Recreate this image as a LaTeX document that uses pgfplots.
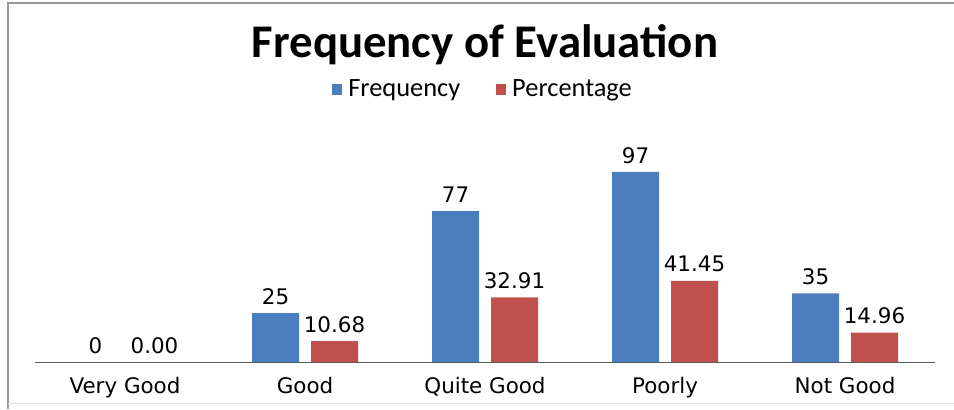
\documentclass[border=0pt]{standalone}
\usepackage{pgfplots}
\pgfplotsset{compat=1.18}
\usepackage{fontspec}
\setmainfont{Carlito}
\newfontfamily\verd{DejaVu Sans}
\definecolor{xlblue}{HTML}{4A7EBF}
\definecolor{xlred}{HTML}{C0504D}
\begin{document}
\begin{tikzpicture}[x=1bp,y=1bp]
\useasboundingbox (0,0) rectangle (954,409);
\draw[gray!80, line width=1.2bp] (8,0) -- (8,406) -- (954,406);
\draw[gray!25, line width=0.8bp] (8,6) -- (954,6);
\node[font=\bfseries\fontsize{47}{50}\selectfont, anchor=center] at (485,364) {Frequency of Evaluation};
\begin{axis}[
  at={(35bp,47bp)}, anchor=south west,
  scale only axis, width=900bp, height=235.2bp,
  xmin=-0.5, xmax=4.5, ymin=0, ymax=120,
  hide y axis,
  axis x line*=bottom,
  x axis line style={draw=gray!70!black, line width=0.8bp},
  xtick={0,1,2,3,4},
  xticklabels={Very Good, Good, Quite Good, Poorly, Not Good},
  major tick length=0pt,
  xticklabel style={font=\verd\fontsize{21.5}{24}\selectfont, yshift=-12bp},
  ybar, bar width=47bp,
  nodes near coords,
  every node near coord/.append style={font=\verd\fontsize{21.5}{24}\selectfont, text=black, yshift=5bp},
  legend style={at={(0.5,1.16)}, anchor=center, draw=none, fill=none,
    legend columns=2, font=\fontsize{26.5}{28}\selectfont,
    /tikz/every even column/.append style={column sep=30bp},
    nodes={inner xsep=6bp}},
  legend image code/.code={\fill[#1] (-5bp,-5.5bp) rectangle (5bp,5.5bp);},
  clip=false,
]
\addplot[bar shift=-29.5bp, draw=none, fill=xlblue,
  point meta=explicit symbolic] coordinates {(0,0)[0] (1,25)[25] (2,77)[77] (3,97)[97] (4,35)[35]};
\addplot[bar shift=29.5bp, draw=none, fill=xlred,
  point meta=explicit symbolic] coordinates {(0,0)[0.00] (1,10.68)[10.68] (2,32.91)[32.91] (3,41.45)[41.45] (4,14.96)[14.96]};
\legend{Frequency, Percentage}
\end{axis}
\end{tikzpicture}
\end{document}
